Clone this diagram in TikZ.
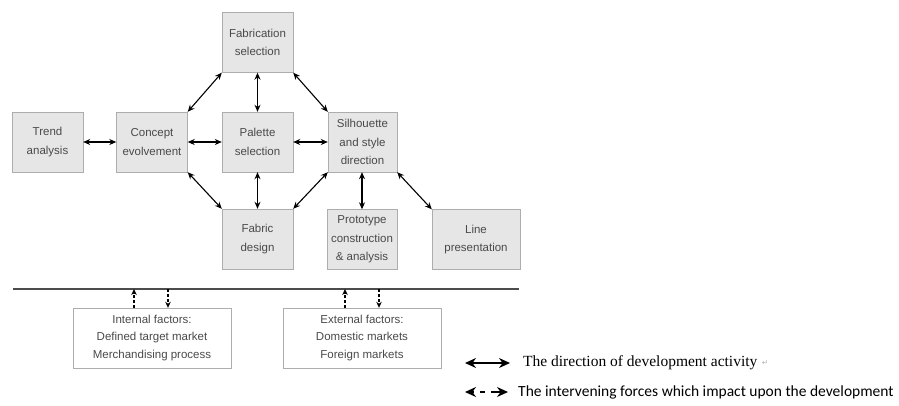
\documentclass[tikz,border=0pt]{standalone}
\usepackage{fontspec}
\setmainfont{Liberation Sans}
\newfontfamily\keyfont{Liberation Serif}
\newfontfamily\notefont{Carlito}
\newfontfamily\markfont{DejaVu Sans}
\definecolor{boxfill}{HTML}{E6E6E6}
\definecolor{boxline}{HTML}{ADADAD}
\definecolor{boxtext}{HTML}{4A4A4A}
\usetikzlibrary{arrows.meta,positioning}

\begin{document}
\begin{tikzpicture}[
        x=1pt, y=-1pt,
        every node/.style = {font=\fontsize{11.5}{18.5}\selectfont},
        stage/.style = {draw=boxline, fill=boxfill, text=boxtext, align=center, inner sep=1pt, minimum width=71, minimum height=60},
        factor/.style = {draw=boxline, fill=white, text=boxtext, align=center, inner sep=1pt, minimum width=158, minimum height=60, font=\fontsize{11.5}{17.5}\selectfont},
        link/.style = {line width=1.1pt, {Stealth[length=7pt, width=6pt]}-{Stealth[length=7pt, width=6pt]}},
        force/.style = {line width=1.1pt, dash pattern=on 3pt off 2pt, -{Stealth[length=6pt, width=5.5pt]}},
        keylink/.style = {line width=1.3pt, {Stealth[length=11pt, width=10pt]}-{Stealth[length=11pt, width=10pt]}}
    ]
    \useasboundingbox (0,0) rectangle (899,405);

    \node[stage] (trend) at (47.5,142) {Trend\\analysis};
    \node[stage] (concept) at (152,142) {Concept\\evolvement};
    \node[stage] (palette) at (257.5,142) {Palette\\selection};
    \node[stage] (fabsel) at (257.5,42.5) {Fabrication\\selection};
    \node[stage] (fabdes) at (257.5,239) {Fabric\\design};
    \node[stage, minimum width=69] (silh) at (362.5,142) {Silhouette\\and style\\direction};
    \node[stage, minimum width=70] (proto) at (362,239.5) {Prototype\\construction\\\& analysis};
    \node[stage, minimum width=88] (linepres) at (476,239.5) {Line\\presentation};

    \draw[link] (trend) -- (concept);
    \draw[link] (concept) -- (palette);
    \draw[link] (palette) -- (silh);
    \draw[link] (fabsel) -- (palette);
    \draw[link] (palette) -- (fabdes);
    \draw[link] (concept.north east) -- (fabsel.south west);
    \draw[link] (fabsel.south east) -- (silh.north west);
    \draw[link] (concept.south east) -- (fabdes.north west);
    \draw[link] (fabdes.north east) -- (silh.south west);
    \draw[link] (silh.south -| proto) -- (proto);
    \draw[link] (silh.south east) -- (linepres.north west);

    % forces acting on the development
    \coordinate (lineL) at (13,289);
    \coordinate (lineR) at (519,289);
    \draw[line width=1.2pt, black!70] (lineL) -- (lineR);

    \node[factor] (internal) at (152,338) {Internal factors:\\Defined target market\\Merchandising process};
    \node[factor] (external) at (362,338) {External factors:\\Domestic markets\\Foreign markets};

    \coordinate (in1) at (134,289);
    \coordinate (in2) at (168,289);
    \coordinate (ex1) at (345,289);
    \coordinate (ex2) at (379,289);
    \draw[force] (internal.north -| in1) -- (in1);
    \draw[force] (in2) -- (internal.north -| in2);
    \draw[force] (external.north -| ex1) -- (ex1);
    \draw[force] (ex2) -- (external.north -| ex2);

    % key
    \coordinate (solidL) at (465,363);
    \coordinate (solidR) at (510,363);
    \draw[keylink] (solidL) -- (solidR);
    \node[right=13pt of solidR, inner sep=0pt, font=\keyfont\fontsize{15.5}{16}\selectfont] (keysolid) {The direction of development activity};
    \node[right=4pt of keysolid, inner sep=0pt, text=gray!55, font=\markfont\fontsize{8}{8}\selectfont] (retmark) {↵};

    \coordinate (dashL) at (465,392);
    \coordinate (dashR) at (508,392);
    \draw[keylink, dash pattern=on 2pt off 6pt on 5pt off 6pt on 20pt] (dashL) -- (dashR);
    \node[right=10pt of dashR, inner sep=0pt, font=\notefont\fontsize{15.5}{16}\selectfont] (keydash) {The intervening forces which impact upon the development};

\end{tikzpicture}
\end{document}
